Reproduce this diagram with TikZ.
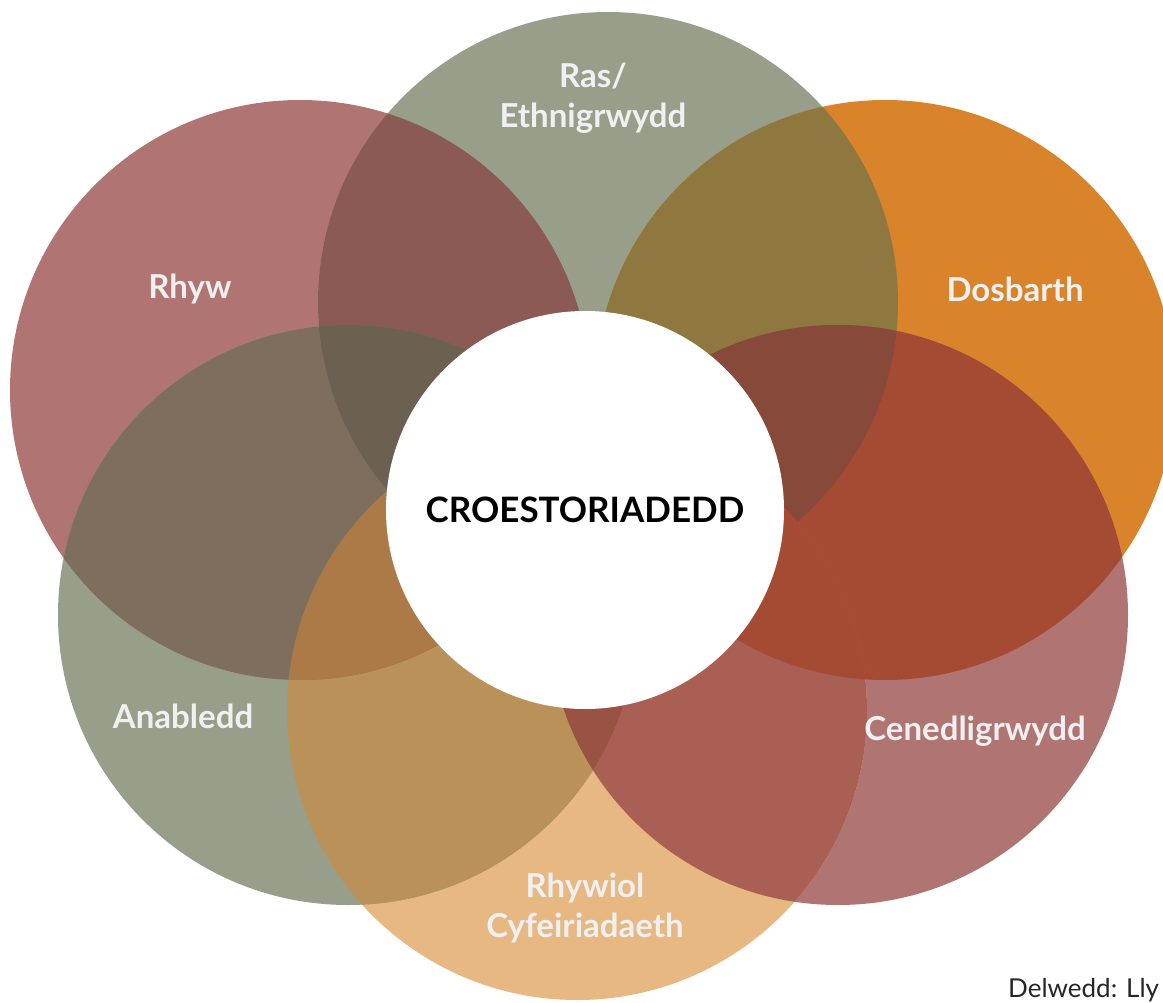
\documentclass[tikz,border=0pt]{standalone}
\usepackage{fontspec}
\setmainfont{Lato}

\definecolor{pinkc}{HTML}{B07473}
\definecolor{sagec}{HTML}{979F8B}
\definecolor{orangec}{HTML}{D9842B}
\definecolor{sandc}{HTML}{E8B883}
% colours of the overlaps
\definecolor{rhywras}{HTML}{8B5A55}
\definecolor{rasdosb}{HTML}{8F7840}
\definecolor{dosbcen}{HTML}{A54B34}
\definecolor{cenrhyw}{HTML}{A95F53}
\definecolor{rhywanab}{HTML}{B99159}
\definecolor{anabrhyw}{HTML}{7E6E5E}
\definecolor{trirhras}{HTML}{6C6150}
\definecolor{trirhan}{HTML}{AB7A47}
\definecolor{trirasdo}{HTML}{87493A}
\definecolor{tridocen}{HTML}{A54B34}
\definecolor{tricenan}{HTML}{9A5244}

\begin{document}
\begin{tikzpicture}[x=1pt, y=-1pt,
    tag/.style = {text=white!94!black, font=\bfseries\fontsize{33}{40}\selectfont, align=center},
    core/.style = {circle, fill=white, minimum size=398pt, inner sep=0pt,
                   font=\bfseries\fontsize{35}{40}\selectfont}]
    \useasboundingbox (0,0) rectangle (1163,1003);

    % Centres of the six circles
    \coordinate (rhyw) at (300,390);
    \coordinate (ras) at (608,302);
    \coordinate (dosb) at (885,390);
    \coordinate (cen) at (838,615);
    \coordinate (rhywiol) at (577,710);
    \coordinate (anab) at (348,615);

    % The circles themselves
    \fill[pinkc] (rhyw) circle[radius=290];
    \fill[sagec] (ras) circle[radius=290];
    \fill[orangec] (dosb) circle[radius=290];
    \fill[pinkc] (cen) circle[radius=290];
    \fill[sandc] (rhywiol) circle[radius=290];
    \fill[sagec] (anab) circle[radius=290];

    % Overlaps of two circles
    \begin{scope} \clip (rhyw) circle[radius=290]; \fill[rhywras] (ras) circle[radius=290]; \end{scope}
    \begin{scope} \clip (ras) circle[radius=290]; \fill[rasdosb] (dosb) circle[radius=290]; \end{scope}
    \begin{scope} \clip (dosb) circle[radius=290]; \fill[dosbcen] (cen) circle[radius=290]; \end{scope}
    \begin{scope} \clip (cen) circle[radius=290]; \fill[cenrhyw] (rhywiol) circle[radius=290]; \end{scope}
    \begin{scope} \clip (rhywiol) circle[radius=290]; \fill[rhywanab] (anab) circle[radius=290]; \end{scope}
    \begin{scope} \clip (anab) circle[radius=290]; \fill[anabrhyw] (rhyw) circle[radius=290]; \end{scope}

    % Overlaps of three circles
    \begin{scope} \clip (rhyw) circle[radius=290]; \clip (ras) circle[radius=290];
        \fill[trirhras] (anab) circle[radius=290]; \end{scope}
    \begin{scope} \clip (rhyw) circle[radius=290]; \clip (anab) circle[radius=290];
        \fill[trirhan] (rhywiol) circle[radius=290]; \end{scope}
    \begin{scope} \clip (ras) circle[radius=290]; \clip (dosb) circle[radius=290];
        \fill[trirasdo] (cen) circle[radius=290]; \end{scope}
    \begin{scope} \clip (dosb) circle[radius=290]; \clip (cen) circle[radius=290];
        \fill[tridocen] (rhywiol) circle[radius=290]; \end{scope}
    \begin{scope} \clip (cen) circle[radius=290]; \clip (rhywiol) circle[radius=290];
        \fill[tricenan] (anab) circle[radius=290]; \end{scope}

    % White middle and the labels
    \node[core] (croes) at (585,510) {CROESTORIADEDD};
    \node[tag] (lrhyw) at (190,289) {Rhyw};
    \node[tag] (lras) at (593,98) {Ras/\\Ethnigrwydd};
    \node[tag] (ldosb) at (1015,289) {Dosbarth};
    \node[tag] (lcen) at (975,731) {Cenedligrwydd};
    \node[tag] (lrhywiol) at (585,908) {Rhywiol\\Cyfeiriadaeth};
    \node[tag] (lanab) at (183,716) {Anabledd};

    \node[anchor=base west, inner sep=0pt, text=black!85, font=\fontsize{26}{28}\selectfont] (credit) at (1008,997) {Delwedd: Lly};
\end{tikzpicture}
\end{document}
